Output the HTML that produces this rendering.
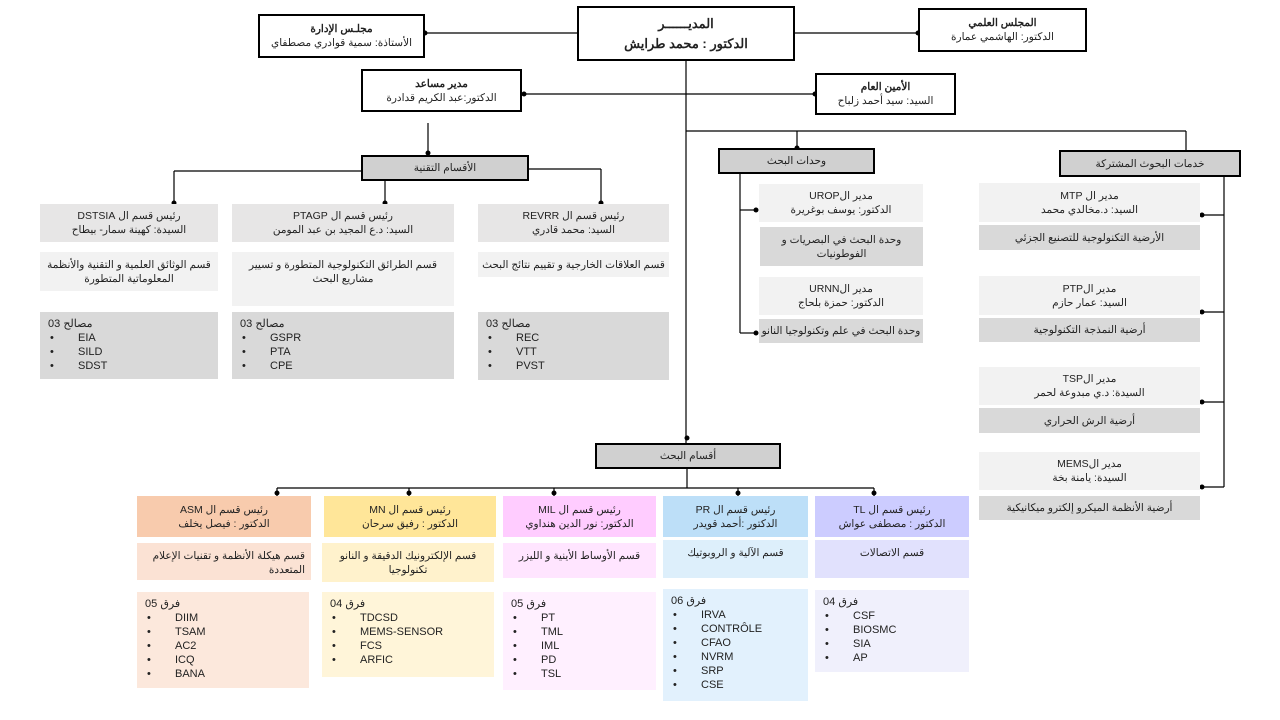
<!DOCTYPE html>
<html><head><meta charset="utf-8">
<style>
*{margin:0;padding:0;box-sizing:border-box}
body{width:1280px;height:720px;background:#fff;position:relative;overflow:hidden;font-family:"Liberation Sans","Noto Sans CJK SC",sans-serif;color:#222}
.b{position:absolute;text-align:center;direction:rtl;font-size:10.5px;line-height:14px;display:flex;flex-direction:column;justify-content:center}
.k{border:2px solid #000;background:#fff}
.g{background:#d0d0d0;border:2px solid #000}
.l1{background:#f2f2f2}
.l2{background:#d9d9d9}
.l3{background:#e7e6e6}
.top{justify-content:flex-start;padding-top:6px}
.lst{position:absolute;font-size:11px;line-height:14px;padding:5px 8px;direction:ltr;text-align:left}
.lst span{display:inline-block;width:30px;padding-left:2px}
.lst .h span{display:inline;width:auto;padding:0}
svg{position:absolute;left:0;top:0}
</style></head><body>
<svg width="1280" height="720">
<g stroke="#000" stroke-width="1.2" fill="none">
<line x1="425" y1="33" x2="577" y2="33"/>
<line x1="795" y1="33" x2="918" y2="33"/>
<line x1="522" y1="94" x2="815" y2="94"/>
<line x1="686" y1="61" x2="686" y2="443"/>
<line x1="686" y1="131" x2="1186" y2="131"/>
<line x1="797" y1="131" x2="797" y2="148"/>
<line x1="1186" y1="131" x2="1186" y2="150"/>
<line x1="428" y1="123" x2="428" y2="155"/>
<line x1="174" y1="171" x2="361" y2="171"/>
<line x1="529" y1="169" x2="601" y2="169"/>
<line x1="174" y1="171" x2="174" y2="203"/>
<line x1="385" y1="181" x2="385" y2="203"/>
<line x1="601" y1="169" x2="601" y2="203"/>
<line x1="740" y1="173" x2="740" y2="333"/>
<line x1="740" y1="210" x2="756" y2="210"/>
<line x1="740" y1="333" x2="756" y2="333"/>
<line x1="1224" y1="176" x2="1224" y2="487"/>
<line x1="1202" y1="215" x2="1224" y2="215"/>
<line x1="1202" y1="312" x2="1224" y2="312"/>
<line x1="1202" y1="402" x2="1224" y2="402"/>
<line x1="1202" y1="487" x2="1224" y2="487"/>
<line x1="687" y1="468" x2="687" y2="488"/>
<line x1="277" y1="488" x2="874" y2="488"/>
<line x1="277" y1="488" x2="277" y2="496"/>
<line x1="409" y1="488" x2="409" y2="496"/>
<line x1="554" y1="488" x2="554" y2="496"/>
<line x1="738" y1="488" x2="738" y2="496"/>
<line x1="874" y1="488" x2="874" y2="496"/>
</g>
<g fill="#000">
<circle cx="425" cy="33" r="2.5"/><circle cx="918" cy="33" r="2.5"/>
<circle cx="524" cy="94" r="2.5"/><circle cx="815" cy="94" r="2.5"/>
<circle cx="797" cy="148" r="2.5"/><circle cx="428" cy="153" r="2.5"/>
<circle cx="174" cy="203" r="2.5"/><circle cx="385" cy="203" r="2.5"/><circle cx="601" cy="203" r="2.5"/>
<circle cx="756" cy="210" r="2.5"/><circle cx="756" cy="333" r="2.5"/>
<circle cx="1202" cy="215" r="2.5"/><circle cx="1202" cy="312" r="2.5"/><circle cx="1202" cy="402" r="2.5"/><circle cx="1202" cy="487" r="2.5"/>
<circle cx="687" cy="438" r="2.5"/>
<circle cx="277" cy="493" r="2.5"/><circle cx="409" cy="493" r="2.5"/><circle cx="554" cy="493" r="2.5"/><circle cx="738" cy="493" r="2.5"/><circle cx="874" cy="493" r="2.5"/>
</g>
</svg>

<div class="b k" style="left:577px;top:6px;width:218px;height:55px;font-size:13px;line-height:20px;font-weight:bold"><div>المديــــــر</div><div>الدكتور : محمد طرايش</div></div>
<div class="b k" style="left:258px;top:14px;width:167px;height:44px"><div style="font-weight:bold">مجلـس الإدارة</div><div>الأستاذة: سمية قوادري مصطفاي</div></div>
<div class="b k" style="left:918px;top:8px;width:169px;height:44px"><div style="font-weight:bold">المجلس العلمي</div><div>الدكتور: الهاشمي عمارة</div></div>
<div class="b k" style="left:361px;top:69px;width:161px;height:43px"><div style="font-weight:bold">مدير مساعد</div><div>الدكتور:عبد الكريم قدادرة</div></div>
<div class="b k" style="left:815px;top:73px;width:141px;height:42px"><div style="font-weight:bold">الأمين العام</div><div>السيد: سيد أحمد زلباح</div></div>

<div class="b g" style="left:361px;top:155px;width:168px;height:26px">الأقسام التقنية</div>
<div class="b g" style="left:718px;top:148px;width:157px;height:26px">وحدات البحث</div>
<div class="b g" style="left:1059px;top:150px;width:182px;height:27px">خدمات البحوث المشتركة</div>
<div class="b g" style="left:595px;top:443px;width:186px;height:26px">أقسام البحث</div>

<div class="b l3" style="left:40px;top:204px;width:178px;height:38px"><div>رئيس قسم ال DSTSIA</div><div>السيدة: كهينة سمار- بيطاح</div></div>
<div class="b l1 top" style="left:40px;top:252px;width:178px;height:39px"><div>قسم الوثائق العلمية و التقنية والأنظمة المعلوماتية المتطورة</div></div>
<div class="lst l2" style="left:40px;top:312px;width:178px;height:67px"><div class="h"><span>03</span> <span>مصالح</span></div><div><span>•</span>EIA</div><div><span>•</span>SILD</div><div><span>•</span>SDST</div></div>

<div class="b l3" style="left:232px;top:204px;width:222px;height:38px"><div>رئيس قسم ال PTAGP</div><div>السيد: د.ع المجيد بن عبد المومن</div></div>
<div class="b l1 top" style="left:232px;top:252px;width:222px;height:54px"><div>قسم الطرائق التكنولوجية المتطورة و تسيير مشاريع البحث</div></div>
<div class="lst l2" style="left:232px;top:312px;width:222px;height:67px"><div class="h"><span>03</span> <span>مصالح</span></div><div><span>•</span>GSPR</div><div><span>•</span>PTA</div><div><span>•</span>CPE</div></div>

<div class="b l3" style="left:478px;top:204px;width:191px;height:38px"><div>رئيس قسم ال REVRR</div><div>السيد: محمد قادري</div></div>
<div class="b l1" style="left:478px;top:252px;width:191px;height:25px"><div>قسم العلاقات الخارجية و تقييم نتائج البحث</div></div>
<div class="lst l2" style="left:478px;top:312px;width:191px;height:68px"><div class="h"><span>03</span> <span>مصالح</span></div><div><span>•</span>REC</div><div><span>•</span>VTT</div><div><span>•</span>PVST</div></div>

<div class="b l1" style="left:759px;top:184px;width:164px;height:38px"><div>مدير الUROP</div><div>الدكتور: يوسف بوغريرة</div></div>
<div class="b l2" style="left:760px;top:227px;width:163px;height:39px"><div>وحدة البحث في البصريات و الفوطونيات</div></div>
<div class="b l1" style="left:759px;top:277px;width:164px;height:38px"><div>مدير الURNN</div><div>الدكتور: حمزة بلحاج</div></div>
<div class="b l2" style="left:759px;top:319px;width:164px;height:24px"><div>وحدة البحث في علم وتكنولوجيا النانو</div></div>

<div class="b l1" style="left:979px;top:183px;width:221px;height:39px"><div>مدير ال MTP</div><div>السيد: د.مخالدي محمد</div></div>
<div class="b l2" style="left:979px;top:225px;width:221px;height:25px"><div>الأرضية التكنولوجية للتصنيع الجزئي</div></div>
<div class="b l1" style="left:979px;top:276px;width:221px;height:39px"><div>مدير الPTP</div><div>السيد: عمار حازم</div></div>
<div class="b l2" style="left:979px;top:318px;width:221px;height:24px"><div>أرضية النمذجة التكنولوجية</div></div>
<div class="b l1" style="left:979px;top:367px;width:221px;height:38px"><div>مدير الTSP</div><div>السيدة: د.ي مبدوعة لحمر</div></div>
<div class="b l2" style="left:979px;top:408px;width:221px;height:25px"><div>أرضية الرش الحراري</div></div>
<div class="b l1" style="left:979px;top:452px;width:221px;height:38px"><div>مدير الMEMS</div><div>السيدة: يامنة بخة</div></div>
<div class="b l2" style="left:979px;top:496px;width:221px;height:24px"><div>أرضية الأنظمة الميكرو إلكترو ميكانيكية</div></div>

<div class="b" style="left:137px;top:496px;width:174px;height:41px;background:#f8cbad"><div>رئيس قسم ال ASM</div><div>الدكتور : فيصل يخلف</div></div>
<div class="b top" style="left:137px;top:543px;width:174px;height:37px;background:#fbe2d4;text-align:right;padding-right:6px"><div>قسم هيكلة الأنظمة و تقنيات الإعلام المتعددة</div></div>
<div class="lst" style="left:137px;top:592px;width:172px;height:96px;background:#fce8dc"><div class="h"><span>05</span> <span>فرق</span></div><div><span>•</span>DIIM</div><div><span>•</span>TSAM</div><div><span>•</span>AC2</div><div><span>•</span>ICQ</div><div><span>•</span>BANA</div></div>

<div class="b" style="left:324px;top:496px;width:172px;height:41px;background:#ffe699"><div>رئيس قسم ال MN</div><div>الدكتور : رفيق سرحان</div></div>
<div class="b top" style="left:322px;top:543px;width:172px;height:39px;background:#fff2cc"><div>قسم الإلكترونيك الدقيقة و النانو تكنولوجيا</div></div>
<div class="lst" style="left:322px;top:592px;width:172px;height:85px;background:#fff5d9"><div class="h"><span>04</span> <span>فرق</span></div><div><span>•</span>TDCSD</div><div><span>•</span>MEMS-SENSOR</div><div><span>•</span>FCS</div><div><span>•</span>ARFIC</div></div>

<div class="b" style="left:503px;top:496px;width:153px;height:41px;background:#ffccff"><div>رئيس قسم ال MIL</div><div>الدكتور: نور الدين هنداوي</div></div>
<div class="b top" style="left:503px;top:543px;width:153px;height:35px;background:#ffe5ff"><div>قسم الأوساط الأينية و الليزر</div></div>
<div class="lst" style="left:503px;top:592px;width:153px;height:98px;background:#fff0ff"><div class="h"><span>05</span> <span>فرق</span></div><div><span>•</span>PT</div><div><span>•</span>TML</div><div><span>•</span>IML</div><div><span>•</span>PD</div><div><span>•</span>TSL</div></div>

<div class="b" style="left:663px;top:496px;width:145px;height:41px;background:#bddff8"><div>رئيس قسم ال PR</div><div>الدكتور :أحمد قويدر</div></div>
<div class="b top" style="left:663px;top:540px;width:145px;height:38px;background:#ddeffb"><div>قسم الآلية و الروبوتيك</div></div>
<div class="lst" style="left:663px;top:589px;width:145px;height:112px;background:#e2f1fd"><div class="h"><span>06</span> <span>فرق</span></div><div><span>•</span>IRVA</div><div><span>•</span>CONTRÔLE</div><div><span>•</span>CFAO</div><div><span>•</span>NVRM</div><div><span>•</span>SRP</div><div><span>•</span>CSE</div></div>

<div class="b" style="left:815px;top:496px;width:154px;height:41px;background:#ccccff"><div>رئيس قسم ال TL</div><div>الدكتور : مصطفى عواش</div></div>
<div class="b top" style="left:815px;top:540px;width:154px;height:38px;background:#e1e1fd"><div>قسم الاتصالات</div></div>
<div class="lst" style="left:815px;top:590px;width:154px;height:82px;background:#f0f0fc"><div class="h"><span>04</span> <span>فرق</span></div><div><span>•</span>CSF</div><div><span>•</span>BIOSMC</div><div><span>•</span>SIA</div><div><span>•</span>AP</div></div>

</body></html>
